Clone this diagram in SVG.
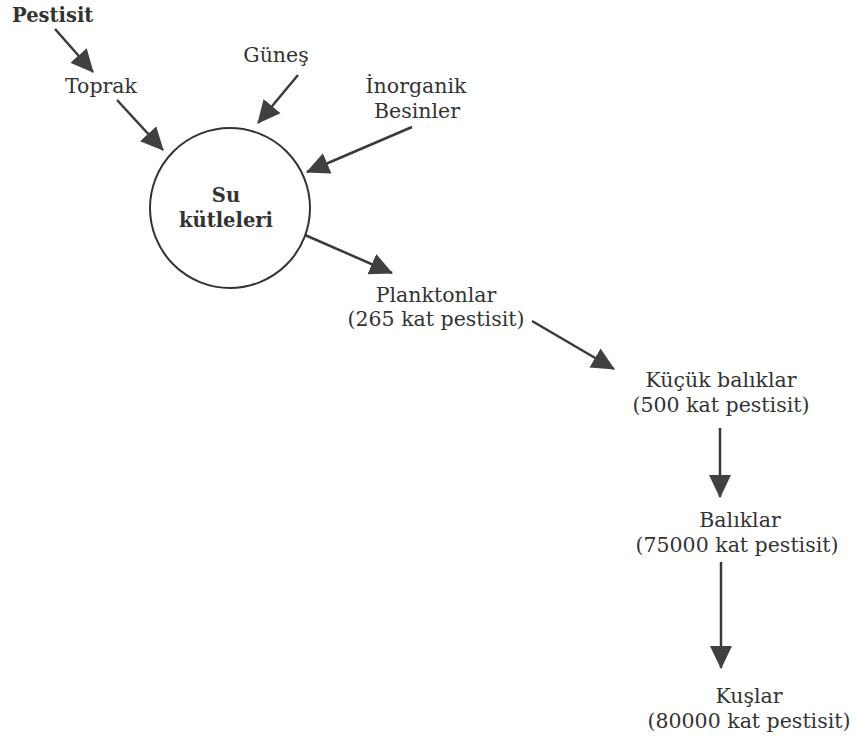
<svg xmlns="http://www.w3.org/2000/svg" width="856" height="740" viewBox="0 0 856 740">
<style>
  text { font-family: "DejaVu Serif", "Liberation Serif", serif; font-size: 20.5px; fill: #333; }
  .b { font-weight: bold; font-size: 19.5px; }
  .c { text-anchor: middle; }
  .ln { stroke: #3a3a3a; stroke-width: 2.5; fill: none; marker-end: url(#ah); }
  .node { fill: #fff; stroke: #333; stroke-width: 2; }
</style>
<defs>
  <marker id="ah" markerUnits="userSpaceOnUse" markerWidth="24" markerHeight="24" viewBox="0 0 24 24" refX="22" refY="12" orient="auto">
    <path d="M0,1 L23,12 L0,23 Z" fill="#404040"/>
  </marker>
</defs>
<rect width="856" height="740" fill="#fff"/>
<g id="connectors">
  <line class="ln" x1="55" y1="29" x2="93" y2="72"/>
  <line class="ln" x1="117" y1="100" x2="163" y2="150"/>
  <line class="ln" x1="298" y1="75" x2="258" y2="123"/>
  <line class="ln" x1="412" y1="127" x2="307" y2="172"/>
  <line class="ln" x1="305" y1="235" x2="392" y2="273"/>
  <line class="ln" x1="532" y1="321" x2="614" y2="369"/>
  <line class="ln" x1="720" y1="428" x2="720" y2="497"/>
  <line class="ln" x1="721" y1="562" x2="721" y2="668"/>
</g>
<g id="pestisit"><text class="b" x="12" y="22">Pestisit</text></g>
<g id="toprak"><text class="c" x="101" y="93">Toprak</text></g>
<g id="gunes"><text class="c" x="276" y="62">Güneş</text></g>
<g id="inorganik"><text class="c" x="416" y="93">İnorganik</text><text class="c" x="417" y="118">Besinler</text></g>
<g id="su">
  <circle class="node" cx="230" cy="208" r="80"/>
  <text class="b c" x="226" y="202">Su</text>
  <text class="b c" x="226" y="227">kütleleri</text>
</g>
<g id="planktonlar"><text class="c" x="436" y="302">Planktonlar</text><text class="c" x="436" y="326">(265 kat pestisit)</text></g>
<g id="kucuk"><text class="c" x="721" y="387">Küçük balıklar</text><text class="c" x="721" y="412">(500 kat pestisit)</text></g>
<g id="baliklar"><text class="c" x="740" y="527">Balıklar</text><text class="c" x="737" y="552">(75000 kat pestisit)</text></g>
<g id="kuslar"><text class="c" x="749" y="703">Kuşlar</text><text class="c" x="749" y="728">(80000 kat pestisit)</text></g>
</svg>
